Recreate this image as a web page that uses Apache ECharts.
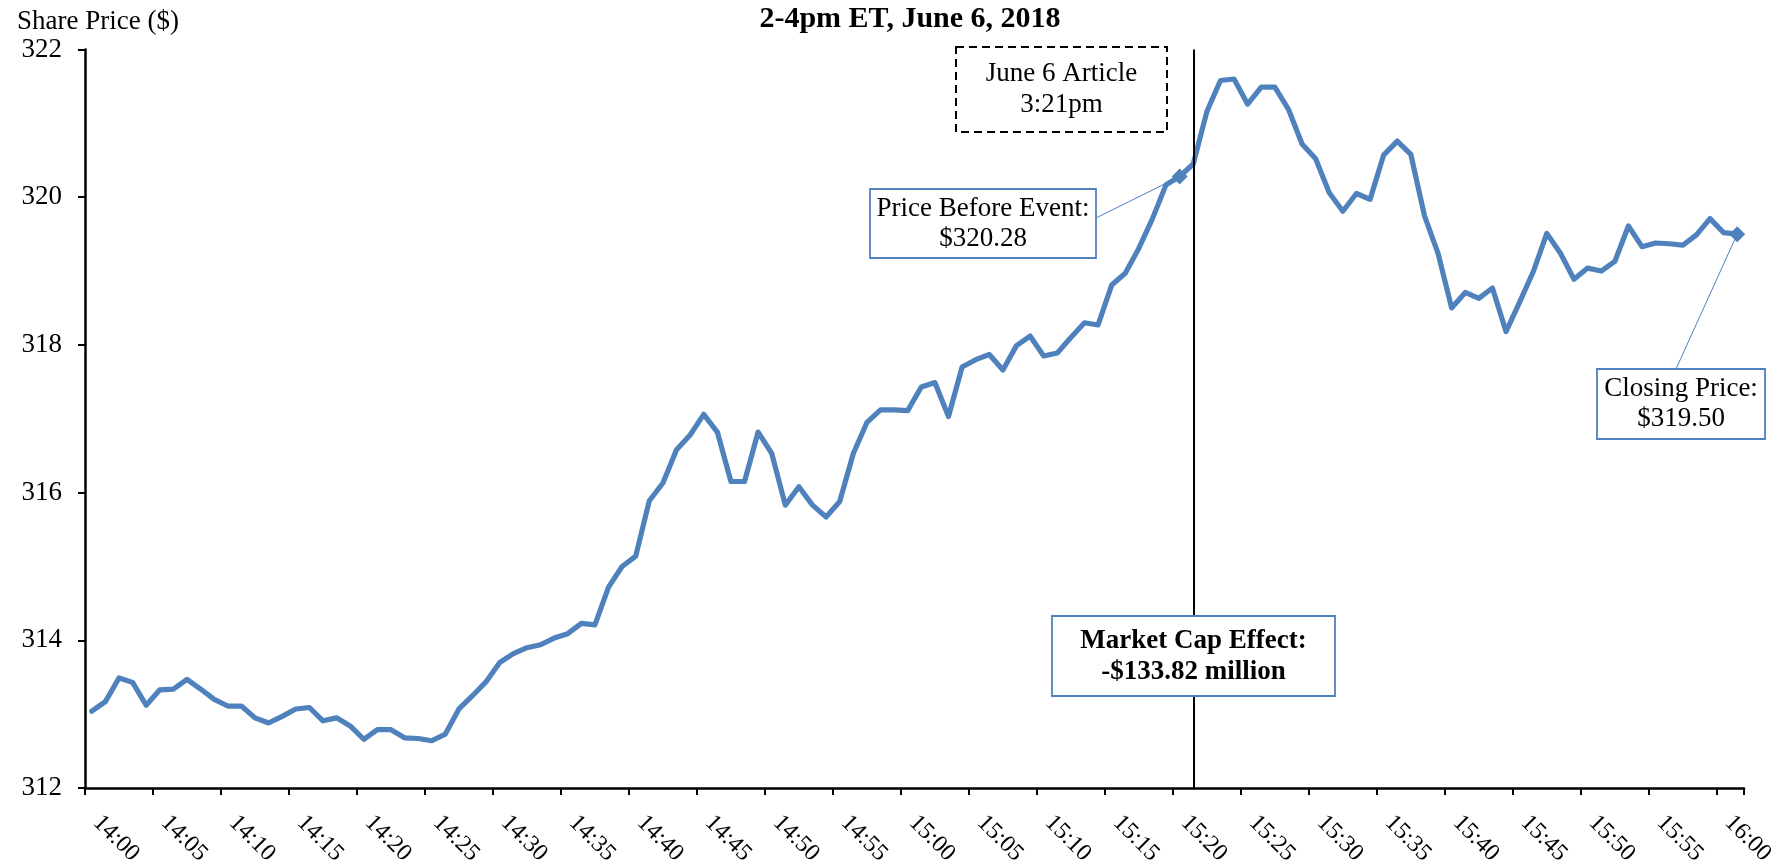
<!DOCTYPE html>
<html>
<head>
<meta charset="utf-8">
<script src="https://cdn.jsdelivr.net/npm/echarts@6/dist/echarts.min.js"></script>
<style>html,body{margin:0;padding:0;background:#fff}#c{width:1783px;height:866px}</style>
</head>
<body>
<div id="c"></div>
<script>
// ---- data ----
const chartTitle = '2-4pm ET, June 6, 2018';
const yAxisTitle = 'Share Price ($)';
// one category per minute, 14:00 onward
const categories = [];
for (let m = 0; m < 122; m++) {
  const h = 14 + Math.floor(m / 60), mm = m % 60;
  categories.push(h + ':' + (mm < 10 ? '0' : '') + mm);
}
const prices = [
  313.04, 313.17, 313.49, 313.43, 313.12, 313.33, 313.34, 313.47, 313.34, 313.20,
  313.11, 313.11, 312.95, 312.88, 312.97, 313.07, 313.09, 312.91, 312.95, 312.84,
  312.66, 312.79, 312.79, 312.68, 312.67, 312.64, 312.73, 313.07, 313.25, 313.44,
  313.70, 313.82, 313.90, 313.94, 314.03, 314.09, 314.23, 314.21, 314.72, 315.00,
  315.14, 315.89, 316.13, 316.58, 316.78, 317.06, 316.82, 316.15, 316.15, 316.82,
  316.53, 315.83, 316.08, 315.83, 315.67, 315.88, 316.53, 316.95, 317.12, 317.12,
  317.11, 317.43, 317.49, 317.03, 317.70, 317.80, 317.87, 317.66, 317.99, 318.12,
  317.85, 317.89, 318.10, 318.30, 318.27, 318.81, 318.97, 319.31, 319.71, 320.17,
  320.28, 320.45, 321.16, 321.58, 321.60, 321.26, 321.49, 321.49, 321.19, 320.72,
  320.52, 320.06, 319.81, 320.05, 319.97, 320.57, 320.76, 320.58, 319.75, 319.24,
  318.50, 318.71, 318.63, 318.77, 318.18, 318.58, 318.99, 319.51, 319.24, 318.89,
  319.04, 319.00, 319.13, 319.61, 319.33, 319.38, 319.37, 319.35, 319.49, 319.71,
  319.52, 319.50
];
const yMin = 312, yMax = 322, yStep = 2;
const eventCategory = '15:21';
const beforeIndex = 80;   // Price Before Event
const closeIndex = 121;   // Closing Price
const articleText = 'June 6 Article\n3:21pm';
const beforeText = 'Price Before Event:\n$320.28';
const effectText = 'Market Cap Effect:\n-$133.82 million';
const closeText = 'Closing Price:\n$319.50';

// ---- chart ----
const FONT = '"Liberation Serif", "Times New Roman", serif';
const BLUE = '#4F81BD';
const FS = 27;
const chart = echarts.init(document.getElementById('c'), null, {renderer: 'canvas'});

const seriesData = prices.map((v, i) =>
  (i === beforeIndex || i === closeIndex)
    ? {value: v, symbol: 'diamond', symbolSize: 16}
    : v);

chart.setOption({
  animation: false,
  backgroundColor: '#fff',
  title: [
    {text: chartTitle, left: 905, top: -1, textAlign: 'center',
     textStyle: {fontFamily: FONT, fontWeight: 'bold', fontSize: 30, color: '#000'}},
    {text: yAxisTitle, left: 12, top: 3,
     textStyle: {fontFamily: FONT, fontWeight: 'normal', fontSize: FS, color: '#000'}}
  ],
  grid: {left: 85, right: 39, top: 49.5, bottom: 78, containLabel: false, outerBoundsMode: 'none'},
  xAxis: {
    type: 'category',
    data: categories,
    boundaryGap: true,
    axisLine: {lineStyle: {color: '#000', width: 2.5}},
    axisTick: {show: true, interval: 4, length: 7, lineStyle: {color: '#000', width: 2}},
    axisLabel: {interval: 4, rotate: -45, margin: 26, padding: [0, 0, 0, 7],
      fontFamily: FONT, fontSize: 24, color: '#000'},
    splitLine: {show: false}
  },
  yAxis: {
    type: 'value',
    min: yMin, max: yMax, interval: yStep,
    axisLine: {show: true, lineStyle: {color: '#000', width: 2.5}},
    axisTick: {show: true, length: 7, lineStyle: {color: '#000', width: 2}},
    axisLabel: {margin: 23, fontFamily: FONT, fontSize: FS, color: '#000'},
    splitLine: {show: false}
  },
  series: [{
    type: 'line',
    data: seriesData,
    symbol: 'none',
    lineStyle: {color: BLUE, width: 5.2, cap: 'round', join: 'round'},
    itemStyle: {color: BLUE},
    markLine: {
      silent: true, symbol: 'none', label: {show: false},
      lineStyle: {color: '#000', width: 2, type: 'solid'},
      emphasis: {disabled: true},
      data: [{xAxis: eventCategory}]
    },
    z: 3
  }]
});

const pBefore = chart.convertToPixel({seriesIndex: 0}, [beforeIndex, prices[beforeIndex]]);
const pClose = chart.convertToPixel({seriesIndex: 0}, [closeIndex, prices[closeIndex]]);

function box(x, y, w, h, stroke, dashed) {
  return {type: 'rect', z: 100, shape: {x, y, width: w, height: h},
    style: {fill: '#fff', stroke, lineWidth: dashed ? 2 : 1.8, lineDash: dashed ? [8, 5] : null}};
}
function label(cx, cy, text, bold, lh) {
  return {type: 'text', z: 101, x: cx, y: cy,
    style: {text, fill: '#000', align: 'center', verticalAlign: 'middle', lineHeight: lh,
      font: (bold ? 'bold ' : '') + FS + 'px ' + FONT}};
}

chart.setOption({
  graphic: [
    box(956, 47, 211, 85, '#000', true),
    label(1061.5, 89, articleText, false, 31),
    {type: 'line', z: 99, shape: {x1: 1096, y1: 218, x2: pBefore[0], y2: pBefore[1]},
     style: {stroke: BLUE, lineWidth: 1}},
    box(870, 189, 226, 69, BLUE, false),
    label(983, 224, beforeText, false, 30),
    box(1052, 616, 283, 80, BLUE, false),
    label(1193.5, 657, effectText, true, 31),
    {type: 'line', z: 99, shape: {x1: 1676, y1: 369, x2: pClose[0], y2: pClose[1]},
     style: {stroke: BLUE, lineWidth: 1}},
    box(1597, 369, 168, 70, BLUE, false),
    label(1681, 404, closeText, false, 30)
  ]
});
</script>
</body>
</html>
